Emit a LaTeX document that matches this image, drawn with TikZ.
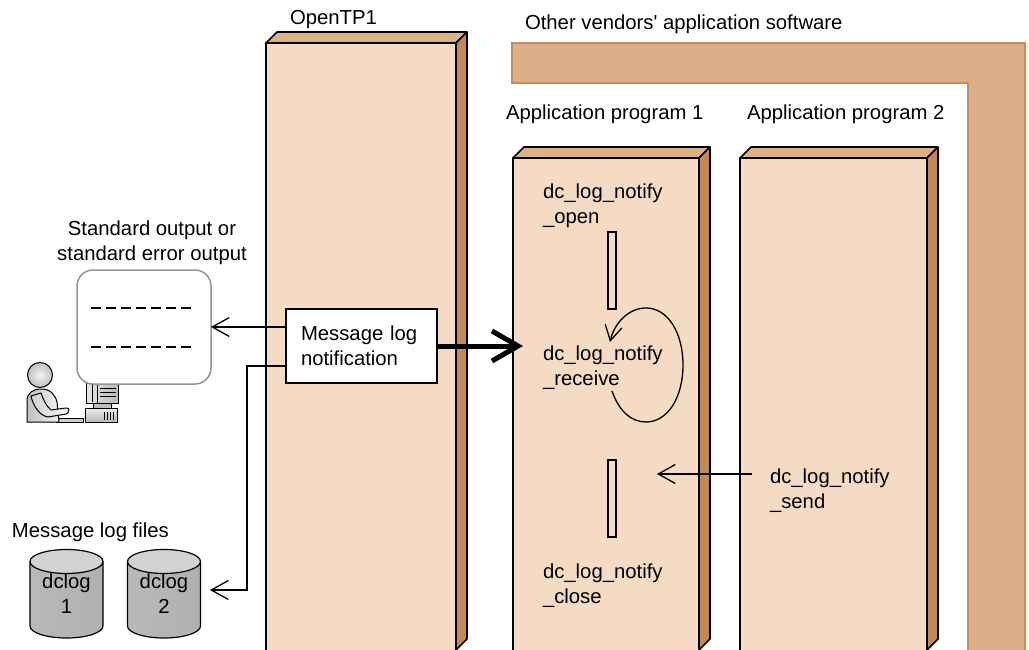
\documentclass[tikz,border=0pt]{standalone}
\usepackage{fontspec}
\setmainfont{Liberation Sans}
\usetikzlibrary{arrows.meta,calc}

\definecolor{facecol}{RGB}{245,219,196}
\definecolor{topcol}{RGB}{221,176,134}
\definecolor{sidecol}{RGB}{196,137,83}
\definecolor{barcol}{RGB}{219,175,135}
\definecolor{baredge}{RGB}{200,140,88}
\definecolor{roundedge}{RGB}{150,150,150}

% A slab: front face as a named node, plus its top and right faces.
% #1 name, #2 left x, #3 top y, #4 width
\newcommand\drawslab[4]{%
  \node[front, minimum width=#4, minimum height={650-#3}] (#1) at (#2,#3) {};
  \draw[edge, fill=topcol] (#1.north west) -- ++(11,-11) -- ++(#4,0) -- (#1.north east) -- cycle;
  \draw[edge, fill=sidecol] (#1.north east) -- ++(11,-11) -- ($(#1.south east)+(11,-11)$) -- (#1.south east) -- cycle;
  \draw[edge] (#1.south west) -- (#1.north west) -- (#1.north east) -- (#1.south east);
}

% A log-file cylinder: #1 name, #2 centre x, #3 number
\newcommand\logcyl[3]{%
  \shade[left color=gray!55, middle color=gray!5, right color=gray!62]
    ({#2-36.5},561.5) -- ({#2-36.5},626) arc[start angle=180, end angle=0, x radius=36.5, y radius=12]
    -- ({#2+36.5},561.5) arc[start angle=0, end angle=-180, x radius=36.5, y radius=12] -- cycle;
  \draw[line width=1.2pt]
    ({#2-36.5},561.5) -- ({#2-36.5},626) arc[start angle=180, end angle=0, x radius=36.5, y radius=12]
    -- ({#2+36.5},561.5);
  \shade[left color=gray!35, middle color=gray!3, right color=gray!35, draw=black, line width=1.2pt]
    (#2,561.5) ellipse [x radius=36.5, y radius=12];
  \node[txt, align=center, anchor=north] (#1) at (#2,574) {dclog\\#3};
}

\begin{document}
\begin{tikzpicture}[x=1pt,y=-1pt,
  txt/.style={font={\fontsize{20.3}{25}\selectfont}, inner sep=0pt, outer sep=0pt},
  front/.style={fill=facecol, inner sep=0pt, outer sep=0pt, anchor=north west},
  edge/.style={draw=black, line width=1.6pt, line join=round},
  thin/.style={line width=1.3pt},
  conn/.style={thin, -{Straight Barb[length=17pt,width=19pt]}},
  bigarrow/.style={line width=5pt, -{Straight Barb[length=26pt,width=30pt]}},
  phase/.style={draw, line width=1.4pt, inner sep=0pt, outer sep=0pt,
    minimum width=8, minimum height=77, anchor=north west},
  icon/.style={draw=black, line width=1pt, line join=round}
]
\useasboundingbox (0,0) rectangle (1029,650);

% Frame of the other vendors' software
\draw[fill=barcol, draw=baredge, line width=1.2pt]
  (512,43) -- (1025,43) -- (1025,652) -- (968,652) -- (968,83) -- (512,83) -- cycle;
\node[txt, anchor=base west] (vendors) at (525,30) {Other vendors\textquotesingle{} application software};

% OpenTP1 and the two application programs
\drawslab{tp1}{266}{43}{190}
\drawslab{app1}{513}{158}{186}
\drawslab{app2}{740}{158}{187}

\node[txt, anchor=base west] (tp1lbl) at (290,25) {OpenTP1};
\node[txt, anchor=base west] (app1lbl) at (506,120) {Application program 1};
\node[txt, anchor=base west] (app2lbl) at (747,120) {Application program 2};

% Terminal: computer and user
\shade[icon, top color=gray!15, bottom color=gray!55] (85,408) rectangle (117,422);
\foreach \vx in {104,107,110,113} \draw[line width=0.8pt] (\vx,412) -- (\vx,420);
\fill[gray!50, draw=black, line width=0.8pt] (93,403) rectangle (111,408);
\shade[icon, left color=gray!20, right color=gray!55] (86,383) rectangle (118,403);
\draw[line width=0.8pt] (92,384) -- (92,402) (97,383) -- (97,403);
\foreach \vy in {388,392,396} \draw[line width=0.8pt] (100,\vy) -- (116,\vy);
\fill[gray!40, draw=black, line width=0.8pt] (56,418) rectangle (83,422);

\shade[icon, left color=gray!50, right color=gray!10]
  (27,422) -- (27,401) .. controls (27,393) and (33,389) .. (41,389)
  .. controls (50,389) and (55,394) .. (57,402) -- (59,422) -- cycle;
\shade[icon, left color=gray!35, right color=gray!8]
  (31,396) .. controls (33,406) and (40,416) .. (48,417) -- (66,414)
  .. controls (70,413) and (70,407) .. (66,408) -- (51,410)
  .. controls (46,406) and (43,399) .. (41,393) -- cycle;
\shade[inner color=gray!8, outer color=gray!50] (40,375) circle (12.5);
\draw[line width=1pt] (40,375) circle (12.5);

% Standard output window
\node[draw=roundedge, line width=1.5pt, fill=white, rounded corners=16pt,
  minimum width=134, minimum height=114, inner sep=0pt, outer sep=0pt,
  anchor=north west] (stdout) at (77,270) {};
\draw[line width=1.5pt, dash pattern=on 9.5pt off 5.5pt] (91,308) -- (193,308);
\draw[line width=1.5pt, dash pattern=on 9.5pt off 5.5pt] (91,347) -- (193,347);
\node[txt, align=center, anchor=north] (stdlbl) at (152,221)
  {Standard output or\\standard error output};

% Message log files
\node[txt, anchor=base west] (fileslbl) at (12,537) {Message log files};
\logcyl{log1}{66.5}{1}
\logcyl{log2}{164}{2}
\coordinate (logtip) at (210,590);

% Message log notification
\node[txt, draw, line width=1.5pt, fill=white, inner xsep=15pt, text width=121pt,
  align=left, minimum height=74, anchor=north west] (msg) at (286,309)
  {Message log\\notification};

% Functions in application program 1
\node[txt, align=left, anchor=north west] (open) at (543,184) {dc\_log\_notify\\\_open};
\node[phase] (bar1) at (608,232) {};
\node[txt, align=left, anchor=north west] (recv) at (543,346) {dc\_log\_notify\\\_receive};
\node[phase] (bar2) at (608,460) {};
\node[txt, align=left, anchor=north west] (close) at (543,564) {dc\_log\_notify\\\_close};

% Function in application program 2
\node[txt, align=left, anchor=north west] (send) at (770,469) {dc\_log\_notify\\\_send};
\coordinate (sendtip) at (657,474);

% Receive loop
\coordinate (loopstart) at (612,391);
\coordinate (loopend) at (610,342);
\draw[thin, -{Straight Barb[length=15pt,width=17pt]}] (loopstart)
  .. controls (619,411) and (631,422) .. (646,422)
  .. controls (668,422) and (683,397) .. (683,365)
  .. controls (683,333) and (668,308) .. (646,308)
  .. controls (628,308) and (614,324) .. (loopend);

% Connectors
\draw[conn] (msg.west |- stdout.east) -- (stdout.east);
\draw[conn] ($(msg.west)+(0,20)$) -- ++(-39,0) |- (logtip);
\draw[bigarrow] (msg.east) -- ($(msg.east -| app1.west)+(10,0)$);
\draw[conn] ($(send.north west)+(-18,5)$) -- (sendtip);

\end{tikzpicture}
\end{document}
